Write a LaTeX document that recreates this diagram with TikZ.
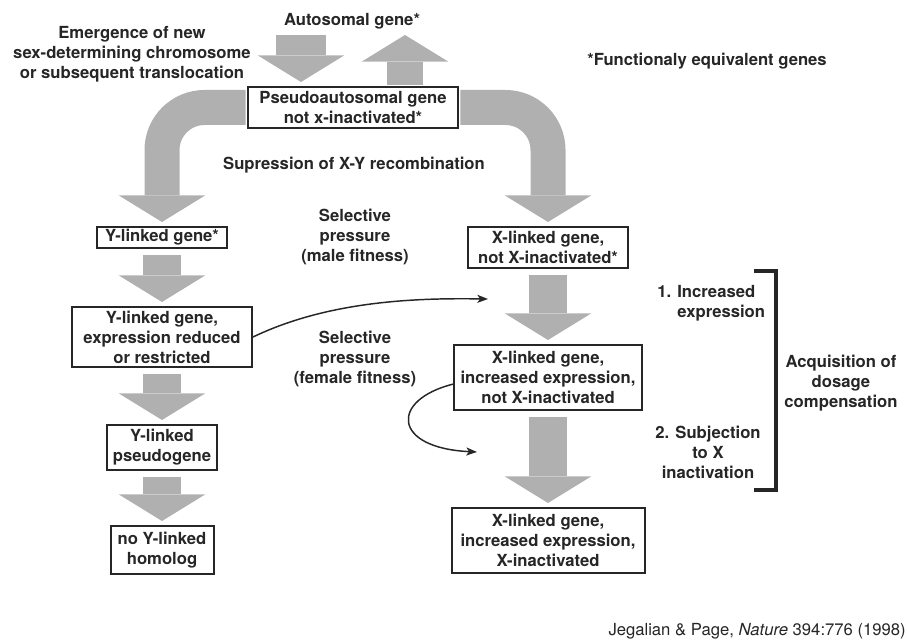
\documentclass[tikz,border=0pt]{standalone}
\usepackage{fontspec}
\setmainfont{TeX Gyre Heros}
\usetikzlibrary{arrows.meta}
\definecolor{ink}{RGB}{38,38,38}
\definecolor{arrowgray}{RGB}{176,176,176}
\newcommand\lbl{\fontsize{12.5}{15}\selectfont\bfseries}
\begin{document}
\begin{tikzpicture}[x=0.75pt,y=-0.75pt,
genebox/.style={draw=ink,line width=1.5pt,text=ink,font=\lbl,align=center,inner sep=1pt},
note/.style={text=ink,font=\lbl,align=center,inner sep=0pt},
bigarrow/.style={draw=arrowgray,line width=28pt,-{Triangle[width=65pt,length=20pt,line width=0pt]},shorten <=4.5pt,shorten >=3pt},
bendarrow/.style={bigarrow,line width=26.25pt,rounded corners=31.9pt,shorten <=1pt},
thinarrow/.style={draw=ink,line width=1.1pt,-{Stealth[length=8pt,width=6pt,inset=2pt]}}]
\useasboundingbox (0,0) rectangle (907,641);
\node[genebox,minimum width=157.5pt,minimum height=30.75pt] (pseudo) at (353,107.5) {Pseudoautosomal gene\\not x-inactivated*};
\node[genebox,minimum width=97.5pt,minimum height=15.75pt] (ygene) at (162,237.5) {Y-linked gene*};
\node[genebox,minimum width=135pt,minimum height=45pt] (yreduced) at (162,337) {Y-linked gene,\\expression reduced\\or restricted};
\node[genebox,minimum width=82.5pt,minimum height=33.75pt] (ypseudo) at (162,447.5) {Y-linked\\pseudogene};
\node[genebox,minimum width=77.25pt,minimum height=36pt] (ynone) at (162,550) {no Y-linked\\homolog};
\node[genebox,minimum width=120pt,minimum height=30.75pt] (xgene) at (548,247.5) {X-linked gene,\\not X-inactivated*};
\node[genebox,minimum width=141pt,minimum height=48.75pt] (xincr) at (548,377.5) {X-linked gene,\\increased expression,\\not X-inactivated};
\node[genebox,minimum width=144.75pt,minimum height=48.75pt] (xinact) at (548,540.5) {X-linked gene,\\increased expression,\\X-inactivated};
\node[note] (autosomal) at (352,21.5) {Autosomal gene*};
\node[note] (emergence) at (132,54) {Emergence of new\\sex-determining chromosome\\or subsequent translocation};
\node[note] (suppress) at (354,165) {Supression of X-Y recombination};
\node[note] (equiv) at (707,61) {*Functionaly equivalent genes};
\node[note] (male) at (355,237) {Selective\\pressure\\(male fitness)};
\node[note] (female) at (355,359) {Selective\\pressure\\(female fitness)};
\node[note,align=left,anchor=west] (step one) at (657,303) {1. Increased\\\hphantom{1. }expression};
\node[note] (step two) at (708,452) {2. Subjection\\to X\\inactivation};
\node[note] (dosage) at (841,383.5) {Acquisition of\\dosage\\compensation};
\node[text=ink,font=\fontsize{12.5}{15}\selectfont,inner sep=0pt,anchor=base east] (cite) at (906,635) {Jegalian \& Page, \textit{Nature} 394:776 (1998)};
\coordinate (autoin) at (301,35);\coordinate (autoout) at (405,35);
\draw[bigarrow,line width=37.5pt,shorten <=0pt] (autoin) -- (autoin |- pseudo.north);
\draw[bigarrow,line width=27pt,shorten <=0.8pt,shorten >=0pt] (autoout |- pseudo.north) -- (autoout);
\draw[bendarrow] (pseudo.west) -| (ygene.north);\draw[bendarrow] (pseudo.east) -| (xgene.north);
\foreach \a/\b in {ygene/yreduced,yreduced/ypseudo,ypseudo/ynone,xgene/xincr,xincr/xinact}{\draw[bigarrow] (\a.south) -- (\b.north);}
\coordinate (maleend) at (488,299);\coordinate (femaleend) at (477,452);
\draw[thinarrow] (yreduced.east) .. controls (330,300) and (420,298) .. (maleend);
\draw[thinarrow] (xincr.184) .. controls (390,400) and (392,448) .. (femaleend);
\draw[ink,line width=3pt] (754,271) -- (776,271) -- (776,490) -- (754,490);
\end{tikzpicture}
\end{document}
